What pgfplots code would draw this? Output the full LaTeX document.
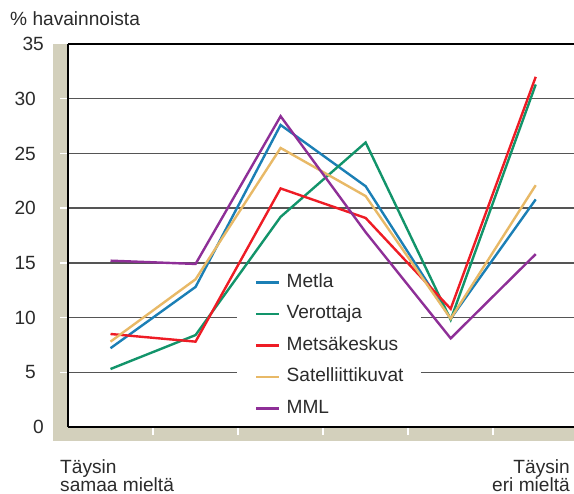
\documentclass[border=0pt]{standalone}
\usepackage{pgfplots}
\pgfplotsset{compat=1.18}
\usepackage{fontspec}
\setmainfont{Liberation Sans}
\definecolor{band}{HTML}{D3D0BC}
\definecolor{gridc}{HTML}{555555}
\definecolor{txt}{HTML}{2B2B2B}
\definecolor{cMetla}{HTML}{1B7FB5}
\definecolor{cVero}{HTML}{12946A}
\definecolor{cMets}{HTML}{EE1C25}
\definecolor{cSat}{HTML}{E8B967}
\definecolor{cMML}{HTML}{8E2F97}
\begin{document}
\begin{tikzpicture}[font=\fontsize{19.2}{20}\selectfont, text=txt]
\fill[band] (-15bp,-14bp) rectangle (506bp,0bp);
\fill[band] (-15bp,-14bp) rectangle (0bp,383bp);
\begin{axis}[
  at={(0,0)}, anchor=south west,
  scale only axis, width=506bp, height=383bp,
  xmin=-0.5, xmax=5.45, ymin=0, ymax=35,
  axis line style={draw=none},
  clip=false,
  xtick={0.5,1.5,2.5,3.5,4.5}, xticklabels={},
  ytick={5,10,15,20,25,30},
  extra y ticks={0,35}, extra y tick style={major tick length=0pt},
  tick align=outside, xtick pos=left, ytick pos=left,
  major tick length=8bp,
  tick style={white, line width=1.5bp},
  /pgf/number format/assume math mode=true,
  yticklabel style={font=\fontsize{19.2}{20}\selectfont, text=txt, inner sep=0pt, xshift=-24bp},
  legend style={at={(0.3696,0.405)}, anchor=north west, draw=none, fill=none,
     inner sep=0pt, row sep=10.5bp, font=\fontsize{19.2}{20}\selectfont,
     nodes={inner sep=2bp, text height=13bp, text depth=4bp, text=txt},
     /tikz/every odd column/.append style={column sep=4bp}},
  legend cell align=left,
  legend image code/.code={\draw[#1, line width=2.4bp] (0bp,0bp) -- (23bp,0bp);},
  every axis plot/.append style={line width=2.4bp, line join=miter, mark=none},
]
% grid lines
\draw[gridc, line width=1.5bp] (axis cs:-0.5,30) -- (axis cs:5.45,30);
\draw[gridc, line width=1.5bp] (axis cs:-0.5,25) -- (axis cs:5.45,25);
\draw[gridc, line width=1.5bp] (axis cs:-0.5,20) -- (axis cs:5.45,20);
\draw[gridc, line width=1.5bp] (axis cs:-0.5,15) -- (axis cs:5.45,15);
\draw[gridc, line width=1.5bp] (axis cs:-0.5,10) -- (axis cs:1.49,10);
\draw[gridc, line width=1.5bp] (axis cs:3.65,10) -- (axis cs:5.45,10);
\draw[gridc, line width=1.5bp] (axis cs:-0.5,5) -- (axis cs:1.49,5);
\draw[gridc, line width=1.5bp] (axis cs:3.65,5) -- (axis cs:5.45,5);
% frame
\draw[black, line width=2bp] (axis cs:-0.5,35) -- (axis cs:5.45,35);
\draw[black, line width=2bp] (axis cs:-0.5,0) -- (axis cs:5.45,0);
\draw[black, line width=2bp] (axis cs:-0.5,0) -- (axis cs:-0.5,35);

\addplot[cMetla] coordinates {(0,7.2) (1,12.8) (2,27.6) (3,22.0) (4,9.9) (5,20.8)};
\addlegendentry{Metla}
\addplot[cVero] coordinates {(0,5.3) (1,8.4) (2,19.2) (3,26.0) (4,9.8) (5,31.3)};
\addlegendentry{Verottaja}
\addplot[cMets] coordinates {(0,8.5) (1,7.8) (2,21.8) (3,19.1) (4,10.8) (5,32.0)};
\addlegendentry{Metsäkeskus}
\addplot[cSat] coordinates {(0,7.8) (1,13.5) (2,25.5) (3,21.1) (4,9.9) (5,22.1)};
\addlegendentry{Satelliittikuvat}
\addplot[cMML] coordinates {(0,15.2) (1,14.9) (2,28.4) (3,17.8) (4,8.1) (5,15.8)};
\addlegendentry{MML}
\end{axis}
\node[anchor=base west, inner sep=0pt] at (-58bp,401bp) {\% havainnoista};
\node[anchor=base west, inner sep=0pt] at (-8bp,-46bp) {Täysin};
\node[anchor=base west, inner sep=0pt] at (-8bp,-64bp) {samaa mieltä};
\node[anchor=base east, inner sep=0pt] at (502bp,-46bp) {Täysin};
\node[anchor=base east, inner sep=0pt] at (502bp,-64bp) {eri mieltä};
\pgfresetboundingbox
\path[use as bounding box] (-68bp,-67bp) rectangle (506bp,427bp);
\end{tikzpicture}
\end{document}
